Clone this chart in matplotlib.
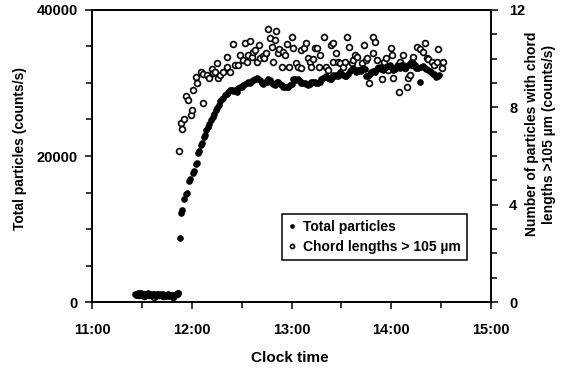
import matplotlib.pyplot as plt
from matplotlib.ticker import MultipleLocator, FuncFormatter

plt.rcParams['font.family'] = ['Liberation Sans', 'DejaVu Sans']
plt.rcParams['font.weight'] = 'bold'

# minutes after 11:00 and counts/s
total_min = [26, 26.5, 27, 27.5, 28, 28.5, 29, 29.5, 30, 30.5, 31, 31.5, 32, 32.5, 33,
             33.5, 34, 34.5, 35, 35.5, 36, 36.5, 37, 37.5, 38, 38.5, 39, 39.5, 40, 40.5,
             41, 41.5, 42, 42.5, 43, 43.5, 44, 44.5, 45, 45.5, 46, 46.5, 47, 47.5, 48,
             48.5, 49, 49.5, 50, 50.5, 51, 51.5, 52,
             52.7, 53.8, 54.3, 55.3, 56.5, 57.2, 58.4, 59, 60.5, 61.2, 62.3, 63, 63.8,
             64.3, 65.6, 66.2, 67.2, 67.8, 68.8, 69.5, 70.5, 71.3, 72.5, 73.5, 74.5,
             75.3, 76.3, 77.2, 78.2, 79, 80, 81, 82, 83, 84, 85, 86, 87, 88, 89,
             90, 91, 92, 93, 94, 95, 96, 97, 98, 99, 100, 101, 102, 103, 104, 105, 106,
             107, 108, 109, 110, 111, 112, 113, 114, 115, 116, 117, 118, 119, 120, 121,
             122, 123, 124, 125, 126, 127, 128, 129, 130, 131, 132, 133, 134, 135, 136,
             137, 138, 139, 140, 141, 142, 143, 144, 145, 146, 147, 148, 149, 150, 151,
             152, 153, 154, 155, 156, 157, 158, 159, 160, 161, 162, 163, 164, 165, 166,
             167, 168, 169, 170, 171, 172, 173, 174, 175, 176, 177, 178, 179, 180, 181,
             182, 183, 184, 185, 186, 187, 188, 189, 190, 191, 192, 193, 194, 195, 196,
             197, 198, 199, 200, 201, 202, 203, 204, 205, 206, 207, 208, 209]
total_counts = [1100, 1000, 950, 1200, 1200, 1050, 1000, 1250, 1100, 950, 900, 1150, 1050,
                1000, 1150, 1200, 950, 1100, 1000, 900, 1100, 1050, 900, 1150, 1000, 850,
                1050, 1100, 950, 1000, 1000, 1150, 900, 850, 1050, 1000, 950, 800, 1000,
                1050, 900, 850, 950, 1000, 1000, 800, 850, 950, 950, 1050, 1100, 1200, 1300,
                8750, 12200, 12600, 14100, 14800, 15000, 16600, 16900, 17700, 17900, 18900,
                19100, 20400, 20700, 21500, 21800, 22600, 22900, 23500, 24000, 24400, 24900,
                25300, 25700, 26300, 26600, 27000, 27500, 27800, 28000, 28400, 28500, 28800,
                29000, 29100, 28900, 29000, 28800, 29300, 29500,
                29400, 29700, 29800, 29950, 30100, 30050, 30300, 30400, 30600, 30750, 30500,
                30400, 30000, 29900, 30200, 30200, 30500, 30400, 29950, 29800, 29700, 30100,
                30200, 29900, 29700, 29400, 29400, 29500, 29450, 29700, 29800, 30600, 30500,
                30400, 30500, 30300, 29950, 30000, 29950, 29800, 29700, 29800, 30200, 30100,
                30200, 30000, 29950, 30200, 30500, 30700, 30800, 30900, 30700, 30500, 30600,
                31100, 30900, 31100, 31000, 31500, 31300, 31100, 31000, 30900, 31200, 31700,
                31800, 32000, 31800, 31500, 31600, 31800, 31700, 32000, 31900, 31000, 30900,
                31300, 31500, 31600, 31500, 31800, 32000, 32200, 31900, 31800, 32000, 32200,
                32300, 32500, 32200, 31800, 31900, 32200, 32300, 32000, 32400, 32500, 32200,
                32300, 32400, 32600, 32900, 32800, 32400, 32000, 32100, 30100, 32200, 32300,
                32000, 31900, 31800, 31600, 31500, 31300, 31200, 30800, 31000, 31100]

chord_min = [28, 31, 34, 37, 40, 43, 46, 49, 51,
             52.5, 53.3, 54.1, 55.3, 56.4, 57.9, 59.5, 59.9, 61.0, 62.6, 63.0, 65.4, 66.6,
             67.0, 69.0, 70.6, 72.0, 72.6, 74.0, 75.0, 76.0, 77.0, 79.0, 81.0, 81.4, 83.0,
             85.0, 86.0, 88.0, 89.0, 91.0, 92.0, 93.0, 94.0, 95.0, 96.0, 97.0, 98.0, 99.0,
             100.6, 101.0, 102.7, 103.5, 104.7, 106.0, 107.0, 108.0, 108.7, 110.0, 110.7,
             111.7, 112.7, 114.0, 115.0, 116.0, 117.0, 118.7, 120.0, 121.0, 122.7, 124.0,
             125.5, 126.0, 127.5, 128.7, 130.0, 131.0, 132.0, 133.0, 134.0, 135.5, 136.7,
             137.0, 139.5, 140.7, 142.0, 143.6, 144.8, 145.0, 146.8, 148.0, 149.2, 150.8,
             152.2, 153.2, 154.8, 156.2, 157.2, 158.2, 159.2, 160.8, 162.2, 163.6, 164.8,
             165.6, 166.8, 168.8, 169.2, 170.2, 171.2, 172.2, 174.2, 175.6, 176.8, 178.2,
             179.6, 180.3, 181.2, 182.2, 184.2, 184.7, 185.3, 186.9, 188.3, 189.3, 190.3,
             191.3, 192.3, 193.3, 195.7, 197.3, 199.3, 200.3, 201.3, 202.3, 204.3, 205.7,
             207.3, 208.3, 210.3, 210.9]
chord_counts = [0.3, 0.25, 0.3, 0.2, 0.3, 0.25, 0.3, 0.2, 0.35,
                6.22, 7.37, 7.10, 7.52, 8.48, 8.30, 7.68, 7.89, 8.71, 9.23, 8.99, 9.47, 8.16,
                9.37, 9.33, 9.19, 9.56, 9.40, 9.47, 9.81, 9.19, 9.33, 9.47, 9.67, 10.08, 9.47,
                10.59, 9.74, 9.74, 10.15, 9.95, 10.66, 9.88, 10.15, 10.74, 10.06, 10.29, 10.36,
                9.85, 10.56, 10.01, 10.11, 10.01, 10.25, 11.21, 10.84, 10.49, 9.88, 10.77,
                11.14, 10.25, 10.38, 9.67, 10.29, 10.15, 10.60, 9.67, 10.88, 10.42, 9.81, 9.67,
                10.36, 9.60, 10.42, 10.66, 10.01, 9.88, 9.67, 9.97, 10.42, 10.42, 9.67,
                10.15, 10.91, 9.67, 9.53, 10.56, 10.63, 9.88, 10.22, 9.88, 9.81, 9.67,
                9.88, 10.91, 10.49, 9.81, 9.95, 10.15, 10.08, 9.53, 9.81, 10.56, 9.95,
                10.01, 8.99, 10.25, 10.88, 10.70, 9.95, 9.60, 9.15, 9.88, 10.01, 9.53,
                10.42, 10.15, 9.19, 9.60, 9.74, 8.62, 9.88, 10.15, 9.60, 8.82, 9.19,
                9.33, 9.74, 10.08, 10.49, 10.38, 10.29, 10.66, 10.01, 9.97, 9.88, 9.74,
                9.88, 10.38, 9.60, 9.85]

total_h = [11 + m / 60 for m in total_min]
chord_h = [11 + m / 60 for m in chord_min]

fig = plt.figure(figsize=(5.62, 3.81), dpi=100)
ax = fig.add_axes([0.1637, 0.2073, 0.7100, 0.7665])
ax2 = ax.twinx()
# filled dots sit on top of the open circles
ax.set_zorder(ax2.get_zorder() + 1)
ax.patch.set_visible(False)

h1, = ax.plot(total_h, total_counts, 'o', color='black', ms=4.8, mew=0,
              label='Total particles')
h2, = ax2.plot(chord_h, chord_counts, 'o', mfc='white', mec='black', ms=4.2, mew=1.2,
               label='Chord lengths > 105 \u00b5m')

ax.set_xlim(11, 15)
ax.set_ylim(0, 40000)
ax2.set_ylim(0, 12)

ax.xaxis.set_major_locator(MultipleLocator(1))
ax.xaxis.set_minor_locator(MultipleLocator(0.5))
ax.xaxis.set_major_formatter(FuncFormatter(lambda v, p: f"{int(round(v))}:00"))
ax.yaxis.set_major_locator(MultipleLocator(20000))
ax.yaxis.set_minor_locator(MultipleLocator(5000))
ax2.yaxis.set_major_locator(MultipleLocator(4))
ax2.yaxis.set_minor_locator(MultipleLocator(1))

for a in (ax, ax2):
    for s in a.spines.values():
        s.set_linewidth(1.2)
    a.tick_params(which='both', direction='out', width=1.1, labelsize=10.5)
    a.tick_params(which='major', length=5)
    a.tick_params(which='minor', length=4)
ax.tick_params(axis='x', pad=10)
ax.tick_params(axis='y', pad=5)
ax2.tick_params(axis='y', pad=8)

fig.text(0.036, 0.61, 'Total particles (counts/s)', rotation=90, ha='center',
         va='center', fontsize=10, fontweight='bold')
fig.text(0.962, 0.648, 'Number of particles with chord\nlengths >105 \u00b5m (counts/s)',
         rotation=90, ha='center', va='center', fontsize=10, fontweight='bold',
         linespacing=1.25)
fig.text(0.515, 0.06, 'Clock time', ha='center', va='center', fontsize=11,
         fontweight='bold')

leg = ax.legend(handles=[h1, h2], loc='lower right', bbox_to_anchor=(0.94, 0.144),
                fontsize=10, frameon=True, fancybox=False, markerscale=0.7,
                handlelength=0.6, handletextpad=0.5, borderpad=0.45, labelspacing=0.4,
                borderaxespad=0, framealpha=1)
leg.get_frame().set_edgecolor('black')
leg.get_frame().set_linewidth(1.1)

fig.savefig('out.png', dpi=100)
